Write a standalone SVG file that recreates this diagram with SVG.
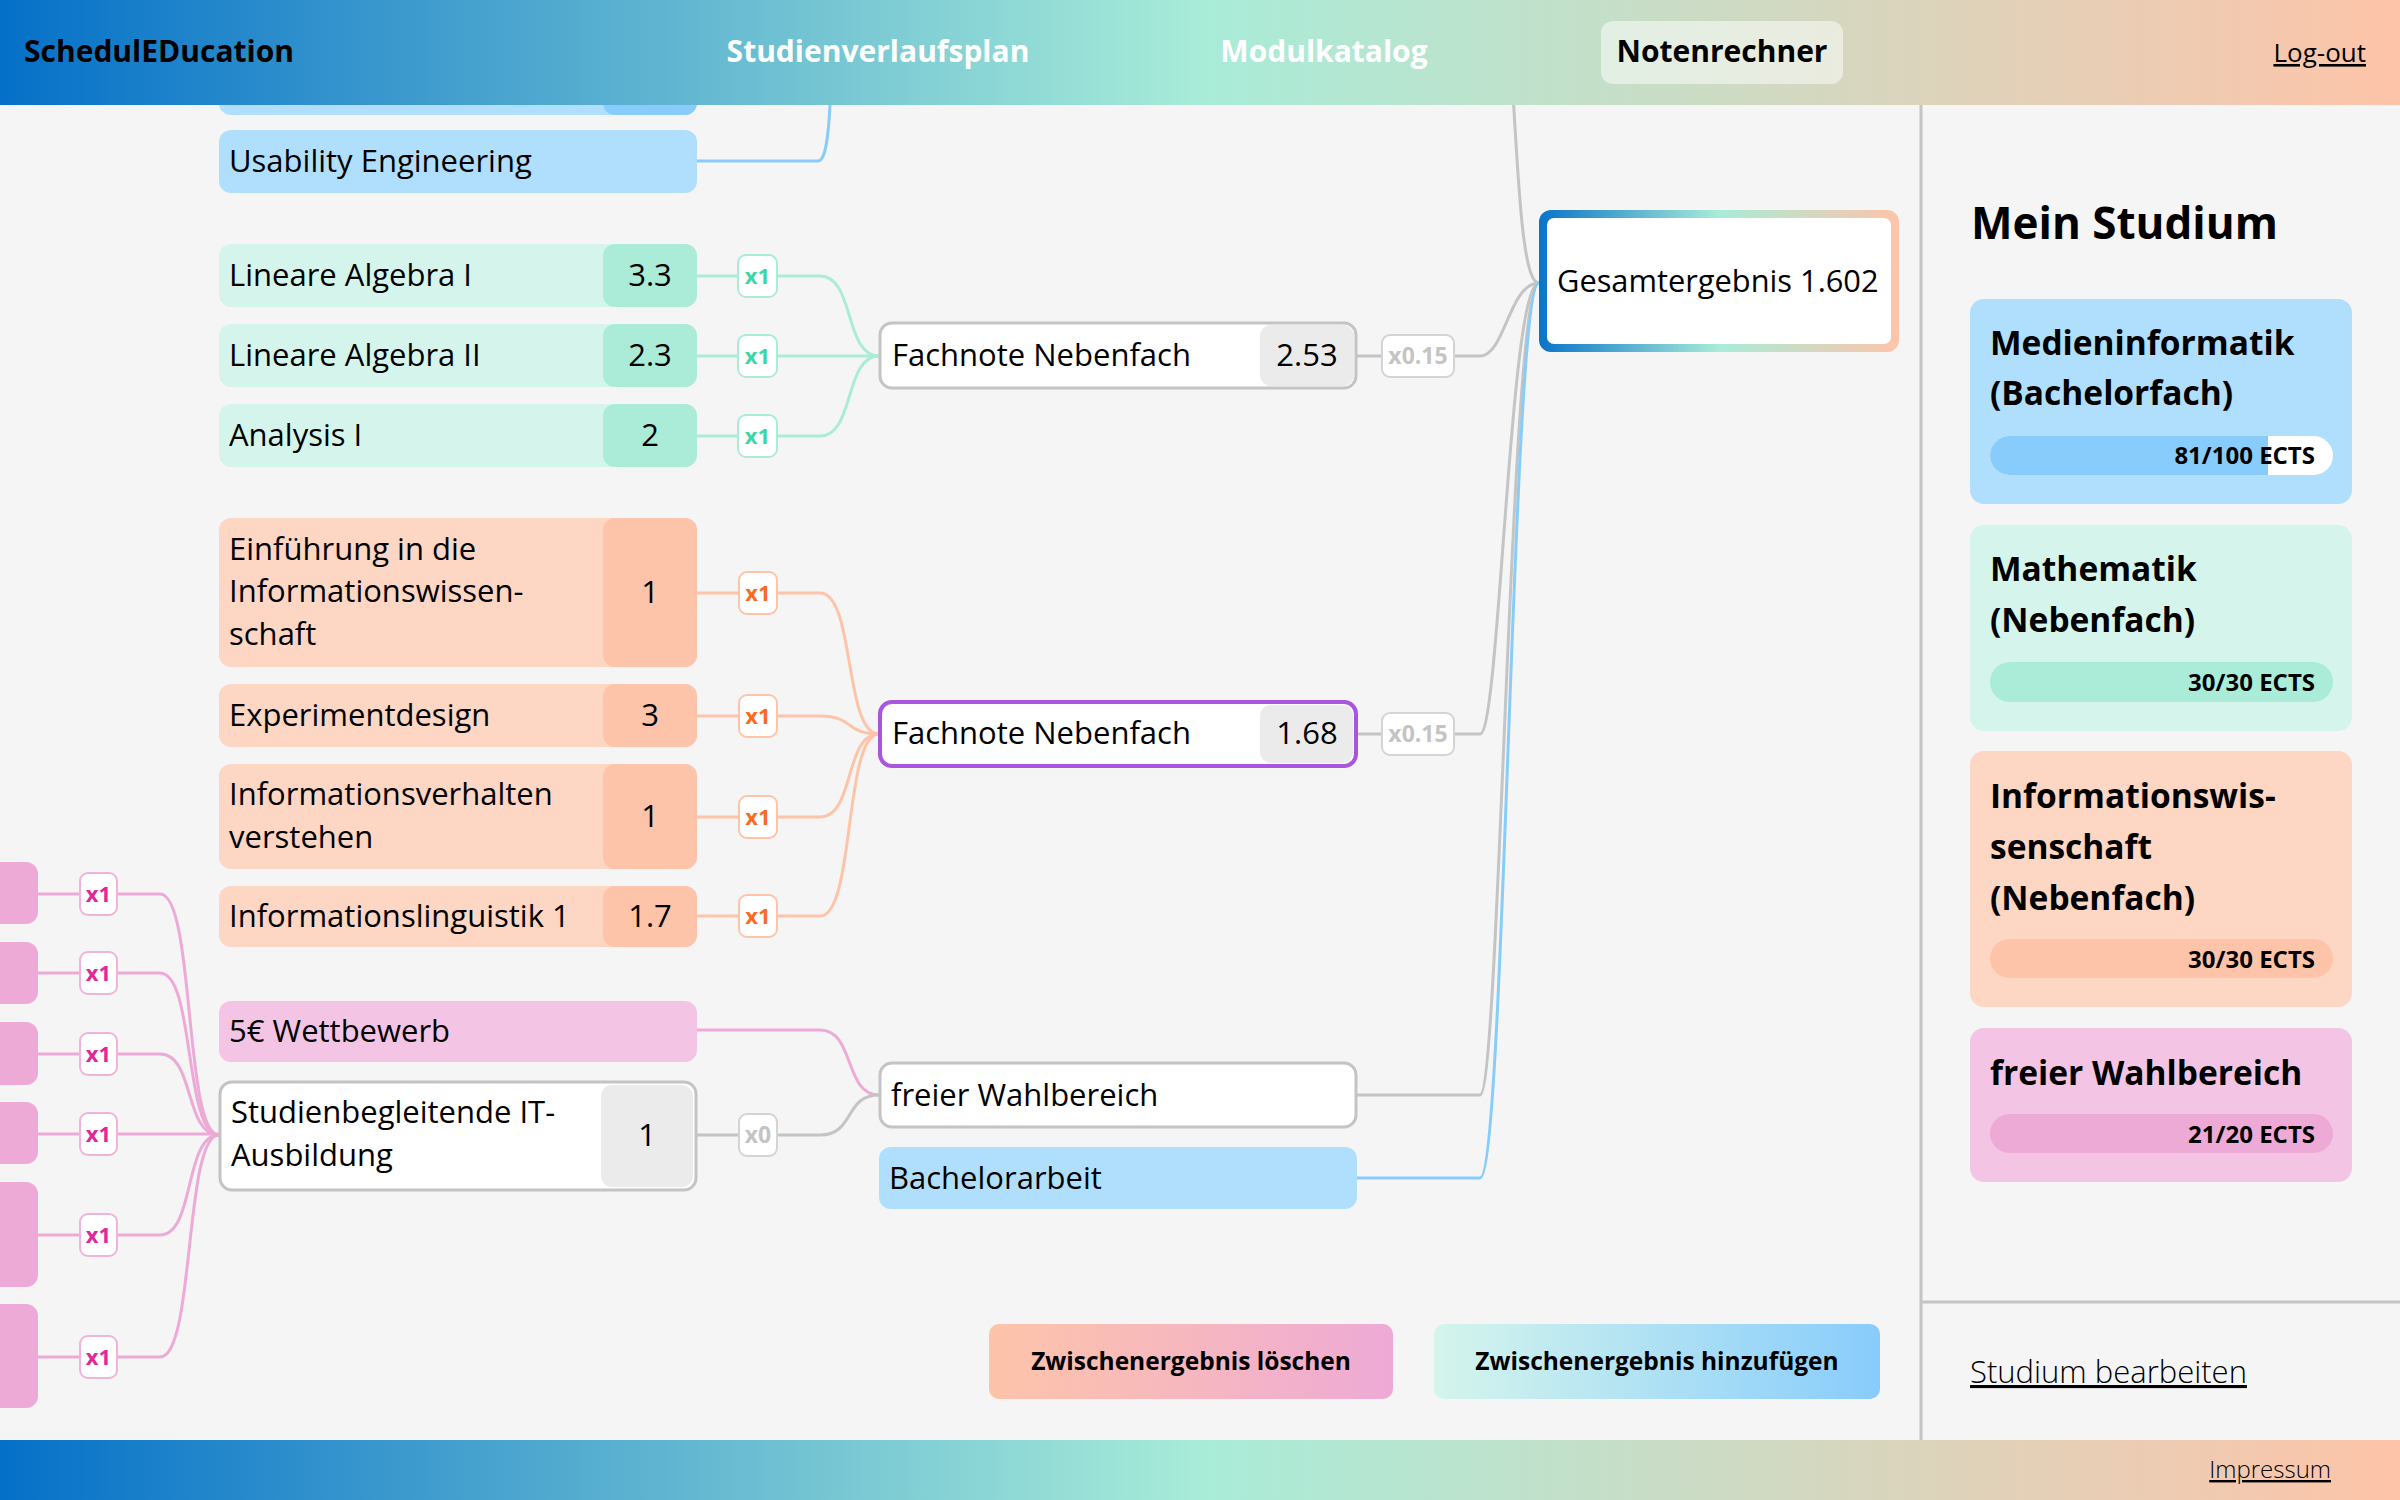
<svg xmlns="http://www.w3.org/2000/svg" width="2400" height="1500" viewBox="0 0 2400 1500">
<defs>
<linearGradient id="bar" x1="0" y1="0" x2="1" y2="0">
<stop offset="0" stop-color="#0570c8"/>
<stop offset="0.5" stop-color="#a8ecd8"/>
<stop offset="1" stop-color="#fec4a9"/>
</linearGradient>
<linearGradient id="gesamt" x1="0" y1="0" x2="1" y2="0">
<stop offset="0" stop-color="#0a74c8"/>
<stop offset="0.5" stop-color="#a8ecd8"/>
<stop offset="1" stop-color="#fec4a9"/>
</linearGradient>
<linearGradient id="btnDel" x1="0" y1="0" x2="1" y2="0">
<stop offset="0" stop-color="#fec4a9"/>
<stop offset="1" stop-color="#eeaad6"/>
</linearGradient>
<linearGradient id="btnAdd" x1="0" y1="0" x2="1" y2="0">
<stop offset="0" stop-color="#d5f5ec"/>
<stop offset="1" stop-color="#88ccfc"/>
</linearGradient>
<style>
text{font-family:"Open Sans","Noto Sans",sans-serif;fill:#000}
.t{font-size:31px}
.g{font-size:31px;text-anchor:middle}
.nav{font-size:30px;font-weight:700}
.navw{font-size:30px;font-weight:700;fill:#fff;text-anchor:middle}
.b{font-size:22px;font-weight:700;text-anchor:middle}
.bw{font-size:23px;font-weight:700;text-anchor:middle;fill:#c4c4c4}
.ct{font-size:33.5px;font-weight:700}
.ects{font-size:24px;font-weight:700;text-anchor:end}
.btn{font-size:24.5px;font-weight:700;text-anchor:middle}
.lnk{font-weight:300;text-decoration:underline}
.c{fill:none;stroke-width:3}
.cm{stroke:#aaecd8}.cp{stroke:#fec4a9}.cg{stroke:#c4c4c4}.cb{stroke:#88ccfc}.ck{stroke:#eeaad6}
.bm{fill:#fff;stroke:#aaecd8;stroke-width:2}
.bp{fill:#fff;stroke:#fec4a9;stroke-width:2}
.bk{fill:#fff;stroke:#f0b4da;stroke-width:2}
.bg{fill:#fff;stroke:#d4d4d4;stroke-width:2}
.blue{fill:#b0defd}.blue2{fill:#88ccfc}
.mint{fill:#d5f5ec}.mint2{fill:#aaecd8}
.peach{fill:#fdd6c4}.peach2{fill:#fec4a9}
.pink{fill:#f4c4e4}.pink2{fill:#eeaad6}
.wb{fill:#fff;stroke:#c4c4c4;stroke-width:3}
.gb{fill:#ebebeb}
.tm{fill:#3ed6a8}.tp{fill:#ff6a1f}.tk{fill:#e0289a}
</style>
</defs>
<rect x="0" y="0" width="2400" height="1500" fill="#f5f5f5"/>

<g id="connectors">
<path class="c cb" d="M697,161 H818 C828,161 830,120 833,40"/>
<path class="c cg" d="M1510,40 C1518,180 1522,283 1539,283"/>
<path class="c cm" d="M697,276 H738 M777,276 H820 C855,276 844,356 879,356"/>
<path class="c cm" d="M697,356 H738 M777,356 H879"/>
<path class="c cm" d="M697,436 H738 M777,436 H820 C855,436 844,356 879,356"/>
<path class="c cp" d="M697,593 H739 M777,593 H820 C855,593 844,734 879,734"/>
<path class="c cp" d="M697,716 H739 M777,716 H820 C855,716 844,734 879,734"/>
<path class="c cp" d="M697,817 H739 M777,817 H820 C855,817 844,734 879,734"/>
<path class="c cp" d="M697,916 H739 M777,916 H820 C855,916 844,734 879,734"/>
<path class="c cg" d="M1357,356 H1382 M1454,356 H1480 C1505,356 1509,283 1539,283"/>
<path class="c cg" d="M1357,734 H1382 M1454,734 H1480 C1500,734 1509,283 1539,283"/>
<path class="c cg" d="M1357,1095 H1480 C1500,1095 1510,283 1539,283"/>
<path class="c cb" d="M1357,1178 H1480 C1505,1178 1512,283 1539,283"/>
<path class="c ck" d="M697,1030 H820 C855,1030 844,1095 879,1095"/>
<path class="c cg" d="M697,1135 H739 M777,1135 H820 C855,1135 844,1095 879,1095"/>
<path class="c ck" d="M38,894 H80 M117,894 H160 C195,894 184,1135 219,1135"/>
<path class="c ck" d="M38,973 H80 M117,973 H160 C195,973 184,1135 219,1135"/>
<path class="c ck" d="M38,1054 H80 M117,1054 H160 C195,1054 184,1135 219,1135"/>
<path class="c ck" d="M38,1134 H80 M117,1134 H219"/>
<path class="c ck" d="M38,1235 H80 M117,1235 H160 C195,1235 184,1135 219,1135"/>
<path class="c ck" d="M38,1357 H80 M117,1357 H160 C195,1357 184,1135 219,1135"/>
</g>

<g id="node-top-partial"><rect class="blue" x="219" y="40" width="478" height="75" rx="12"/><rect class="blue2" x="603" y="40" width="94" height="75" rx="12"/></g>
<g id="node-usability"><rect class="blue" x="219" y="130" width="478" height="63" rx="12"/><text class="t" x="229" y="172">Usability Engineering</text></g>

<g id="node-la1"><rect class="mint" x="219" y="244" width="478" height="63" rx="12"/><rect class="mint2" x="603" y="244" width="94" height="63" rx="12"/><text class="t" x="229" y="286">Lineare Algebra I</text><text class="g" x="650" y="286">3.3</text></g>
<g id="node-la2"><rect class="mint" x="219" y="324" width="478" height="63" rx="12"/><rect class="mint2" x="603" y="324" width="94" height="63" rx="12"/><text class="t" x="229" y="366">Lineare Algebra II</text><text class="g" x="650" y="366">2.3</text></g>
<g id="node-ana1"><rect class="mint" x="219" y="404" width="478" height="63" rx="12"/><rect class="mint2" x="603" y="404" width="94" height="63" rx="12"/><text class="t" x="229" y="446">Analysis I</text><text class="g" x="650" y="446">2</text></g>

<g id="node-einf"><rect class="peach" x="219" y="518" width="478" height="149" rx="12"/><rect class="peach2" x="603" y="518" width="94" height="149" rx="12"/><text class="t" x="229" y="560">Einführung in die</text><text class="t" x="229" y="602">Informationswissen-</text><text class="t" x="229" y="645">schaft</text><text class="g" x="650" y="603">1</text></g>
<g id="node-exp"><rect class="peach" x="219" y="684" width="478" height="63" rx="12"/><rect class="peach2" x="603" y="684" width="94" height="63" rx="12"/><text class="t" x="229" y="726">Experimentdesign</text><text class="g" x="650" y="726">3</text></g>
<g id="node-iv"><rect class="peach" x="219" y="764" width="478" height="105" rx="12"/><rect class="peach2" x="603" y="764" width="94" height="105" rx="12"/><text class="t" x="229" y="805">Informationsverhalten</text><text class="t" x="229" y="848">verstehen</text><text class="g" x="650" y="827">1</text></g>
<g id="node-il"><rect class="peach" x="219" y="886" width="478" height="61" rx="12"/><rect class="peach2" x="603" y="886" width="94" height="61" rx="12"/><text class="t" x="229" y="927">Informationslinguistik 1</text><text class="g" x="650" y="927">1.7</text></g>

<g id="node-wett"><rect class="pink" x="219" y="1001" width="478" height="61" rx="12"/><text class="t" x="229" y="1042">5€ Wettbewerb</text></g>
<g id="node-it"><rect class="wb" x="220" y="1082" width="476" height="108" rx="12"/><rect class="gb" x="601" y="1085" width="92" height="102" rx="11"/><text class="t" x="231" y="1123">Studienbegleitende IT-</text><text class="t" x="231" y="1166">Ausbildung</text><text class="g" x="647" y="1146">1</text></g>

<g id="left-partial-nodes">
<rect class="pink2" x="-30" y="862" width="68" height="62" rx="12"/>
<rect class="pink2" x="-30" y="942" width="68" height="62" rx="12"/>
<rect class="pink2" x="-30" y="1022" width="68" height="63" rx="12"/>
<rect class="pink2" x="-30" y="1102" width="68" height="62" rx="12"/>
<rect class="pink2" x="-30" y="1182" width="68" height="105" rx="12"/>
<rect class="pink2" x="-30" y="1304" width="68" height="104" rx="12"/>
</g>

<g id="weights">
<rect class="bm" x="738" y="255" width="39" height="42" rx="8"/><text class="b tm" x="757.5" y="284">x1</text>
<rect class="bm" x="738" y="335" width="39" height="42" rx="8"/><text class="b tm" x="757.5" y="364">x1</text>
<rect class="bm" x="738" y="415" width="39" height="42" rx="8"/><text class="b tm" x="757.5" y="444">x1</text>
<rect class="bp" x="739" y="572" width="38" height="42" rx="8"/><text class="b tp" x="758" y="601">x1</text>
<rect class="bp" x="739" y="695" width="38" height="42" rx="8"/><text class="b tp" x="758" y="724">x1</text>
<rect class="bp" x="739" y="796" width="38" height="42" rx="8"/><text class="b tp" x="758" y="825">x1</text>
<rect class="bp" x="739" y="895" width="38" height="42" rx="8"/><text class="b tp" x="758" y="924">x1</text>
<rect class="bg" x="739" y="1114" width="38" height="42" rx="8"/><text class="bw" x="758" y="1143">x0</text>
<rect class="bk" x="80" y="873" width="37" height="42" rx="8"/><text class="b tk" x="98.5" y="902">x1</text>
<rect class="bk" x="80" y="952" width="37" height="42" rx="8"/><text class="b tk" x="98.5" y="981">x1</text>
<rect class="bk" x="80" y="1033" width="37" height="42" rx="8"/><text class="b tk" x="98.5" y="1062">x1</text>
<rect class="bk" x="80" y="1113" width="37" height="42" rx="8"/><text class="b tk" x="98.5" y="1142">x1</text>
<rect class="bk" x="80" y="1214" width="37" height="42" rx="8"/><text class="b tk" x="98.5" y="1243">x1</text>
<rect class="bk" x="80" y="1336" width="37" height="42" rx="8"/><text class="b tk" x="98.5" y="1365">x1</text>
<rect class="bg" x="1382" y="335" width="72" height="42" rx="8"/><text class="bw" x="1418" y="364">x0.15</text>
<rect class="bg" x="1382" y="713" width="72" height="42" rx="8"/><text class="bw" x="1418" y="742">x0.15</text>
</g>

<g id="node-fach1"><rect class="wb" x="880" y="323" width="476" height="65" rx="12"/><rect class="gb" x="1260" y="325" width="94" height="61" rx="11"/><text class="t" x="892" y="366">Fachnote Nebenfach</text><text class="g" x="1307" y="366">2.53</text></g>
<g id="node-fach2"><rect x="880" y="702" width="476" height="64" rx="12" fill="#fff" stroke="#a855e0" stroke-width="4"/><rect class="gb" x="1260" y="705" width="93" height="58" rx="11"/><text class="t" x="892" y="744">Fachnote Nebenfach</text><text class="g" x="1307" y="744">1.68</text></g>
<g id="node-frei"><rect class="wb" x="880" y="1063" width="476" height="64" rx="12"/><text class="t" x="891" y="1106">freier Wahlbereich</text></g>
<g id="node-ba"><rect class="blue" x="879" y="1147" width="478" height="62" rx="12"/><text class="t" x="889" y="1189">Bachelorarbeit</text></g>

<g id="node-gesamt"><rect x="1539" y="210" width="360" height="142" rx="12" fill="url(#gesamt)"/><rect x="1547" y="218" width="344" height="126" rx="7" fill="#fff"/><text x="1557" y="292" style="font-size:30.8px">Gesamtergebnis 1.602</text></g>

<g id="buttons">
<g id="btn-delete"><rect x="989" y="1324" width="404" height="75" rx="10" fill="url(#btnDel)"/><text class="btn" x="1191" y="1370">Zwischenergebnis löschen</text></g>
<g id="btn-add"><rect x="1434" y="1324" width="446" height="75" rx="10" fill="url(#btnAdd)"/><text class="btn" x="1657" y="1370">Zwischenergebnis hinzufügen</text></g>
</g>

<g id="sidebar">
<line x1="1921" y1="104" x2="1921" y2="1440" stroke="#c4c4c4" stroke-width="3"/>
<line x1="1921" y1="1302" x2="2400" y2="1302" stroke="#c4c4c4" stroke-width="3"/>
<text x="1971" y="239" style="font-size:44px;font-weight:700">Mein Studium</text>
<g id="card-mi"><rect class="blue" x="1970" y="299" width="382" height="205" rx="14"/><text class="ct" x="1990" y="355">Medieninformatik</text><text class="ct" x="1990" y="405">(Bachelorfach)</text><rect x="1990" y="436" width="343" height="39" rx="19.5" fill="#fff"/><path d="M2009.5,436 H2268 V475 H2009.5 A19.5,19.5 0 0 1 2009.5,436 Z" fill="#88ccfc"/><text class="ects" x="2315" y="464">81/100 ECTS</text></g>
<g id="card-ma"><rect class="mint" x="1970" y="525" width="382" height="206" rx="14"/><text class="ct" x="1990" y="581">Mathematik</text><text class="ct" x="1990" y="632">(Nebenfach)</text><rect class="mint2" x="1990" y="662" width="343" height="40" rx="20"/><text class="ects" x="2315" y="691">30/30 ECTS</text></g>
<g id="card-iw"><rect class="peach" x="1970" y="751" width="382" height="256" rx="14"/><text class="ct" x="1990" y="808">Informationswis-</text><text class="ct" x="1990" y="859">senschaft</text><text class="ct" x="1990" y="910">(Nebenfach)</text><rect class="peach2" x="1990" y="939" width="343" height="39" rx="19.5"/><text class="ects" x="2315" y="968">30/30 ECTS</text></g>
<g id="card-fw"><rect class="pink" x="1970" y="1028" width="382" height="154" rx="14"/><text class="ct" x="1990" y="1085">freier Wahlbereich</text><rect class="pink2" x="1990" y="1114" width="343" height="39" rx="19.5"/><text class="ects" x="2315" y="1143">21/20 ECTS</text></g>
<text class="lnk" x="1970" y="1383" style="font-size:31px">Studium bearbeiten</text>
</g>

<g id="header">
<rect x="0" y="0" width="2400" height="105" fill="url(#bar)"/>
<text class="nav" x="24" y="62">SchedulEDucation</text>
<text class="navw" x="878" y="62">Studienverlaufsplan</text>
<text class="navw" x="1324" y="62">Modulkatalog</text>
<rect x="1601" y="21" width="242" height="63" rx="12" fill="#fff" fill-opacity="0.5"/>
<text class="nav" x="1722" y="62" style="text-anchor:middle">Notenrechner</text>
<text x="2366" y="62" style="font-size:26px;text-anchor:end;text-decoration:underline">Log-out</text>
</g>

<g id="footer">
<rect x="0" y="1440" width="2400" height="60" fill="url(#bar)"/>
<text class="lnk" x="2331" y="1478" style="font-size:24px;text-anchor:end">Impressum</text>
</g>
</svg>
